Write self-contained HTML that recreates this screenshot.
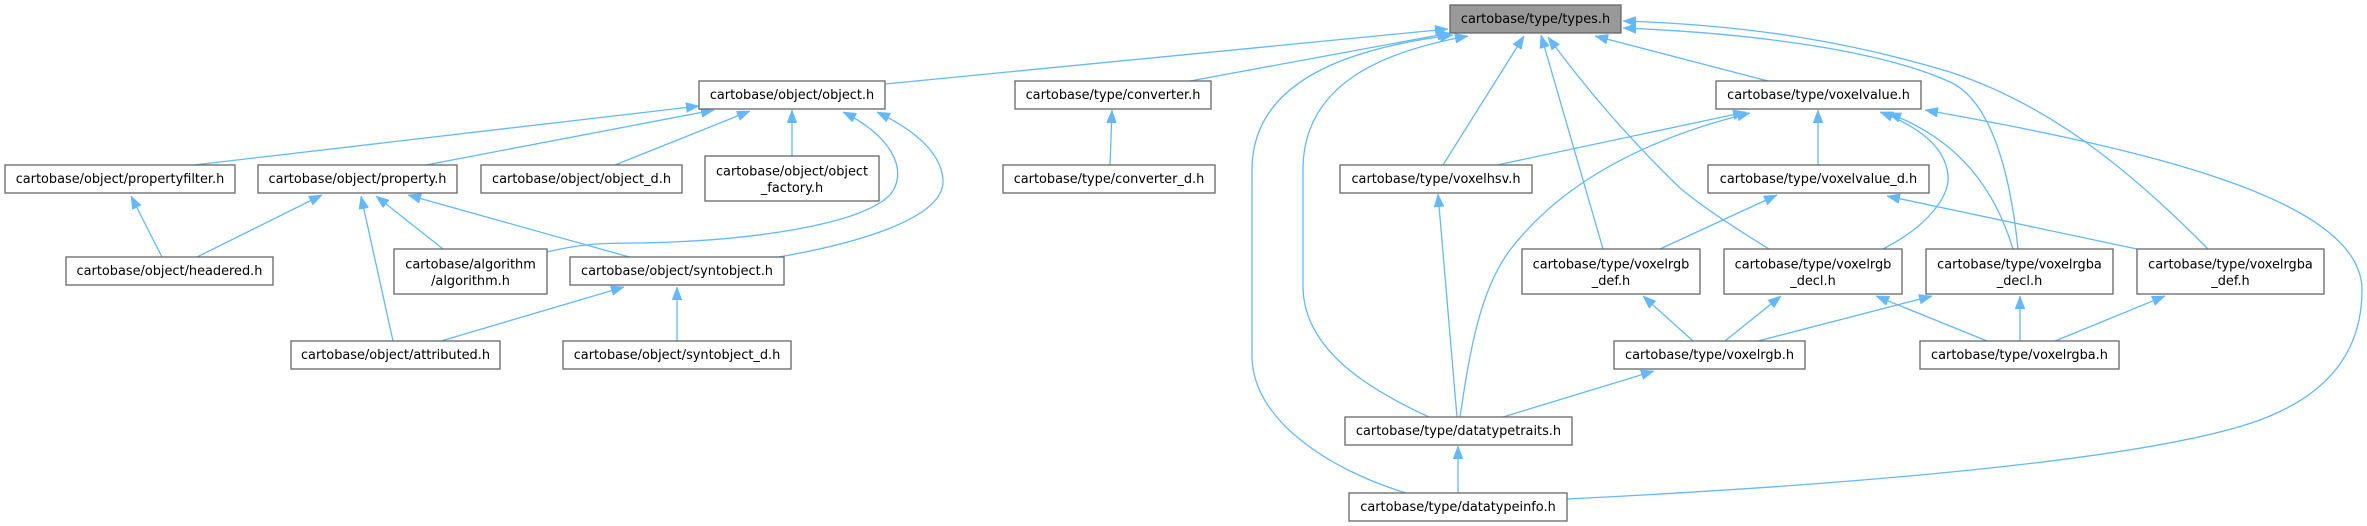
<!DOCTYPE html>
<html><head><meta charset="utf-8"><style>
html,body{margin:0;padding:0;background:#fff;}
svg{display:block;}
text{font-family:"DejaVu Sans","Liberation Sans",sans-serif;font-size:12.9px;fill:#000;}
.e{fill:none;stroke:#63b8ff;stroke-width:1.3;marker-end:url(#ah);}
.n{fill:#fff;stroke:#666;stroke-width:1.3;}
</style></head><body>
<svg width="2367" height="526" viewBox="0 0 2367 526" xmlns="http://www.w3.org/2000/svg">
<defs>
<marker id="ah" markerUnits="userSpaceOnUse" viewBox="0 0 13 10" refX="13" refY="5" markerWidth="13" markerHeight="10" orient="auto">
<path d="M0,0 L13,5 L0,10 z" fill="#63b8ff" stroke="#63b8ff" stroke-width="0.5"/>
</marker>
</defs>
<rect width="2367" height="526" fill="#fff"/>

<!-- edges -->
<path class="e" d="M885,84 L1448,29"/>
<path class="e" d="M1190,81 L1450,33"/>
<path class="e" d="M1406,493 C1330,470 1252,420 1252,356 L1252,170 C1252,80 1350,48 1453,35"/>
<path class="e" d="M1429,417 C1370,390 1303,350 1303,286 L1303,170 C1303,85 1380,52 1468,36"/>
<path class="e" d="M1443,165 L1524,36"/>
<path class="e" d="M1603,249 L1541,35"/>
<path class="e" d="M1769,249 C1730,225 1700,205 1680,188 C1620,130 1580,80 1548,37"/>
<path class="e" d="M1768,81 L1595,36"/>
<path class="e" d="M2018,249 C2010,170 1990,100 1950,82 C1880,50 1750,33 1623,28"/>
<path class="e" d="M2208,249 C2130,170 2050,105 1950,72 C1850,42 1750,25 1623,21"/>
<path class="e" d="M1110,165 L1112,110"/>
<path class="e" d="M792,156 L792,110"/>
<path class="e" d="M615,165 L750,111"/>
<path class="e" d="M426,165 L714,110"/>
<path class="e" d="M194,165 L699,106"/>
<path class="e" d="M547,252 C580,244 600,243 640,243 C750,241 860,225 890,195 C910,170 890,135 843,112"/>
<path class="e" d="M773,258 C850,245 945,220 943,180 C941,150 910,128 877,112"/>
<path class="e" d="M162,257 L131,196"/>
<path class="e" d="M197,257 L322,195"/>
<path class="e" d="M393,341 L361,196"/>
<path class="e" d="M443,249 L376,196"/>
<path class="e" d="M633,258 L408,195"/>
<path class="e" d="M441,341 L624,287"/>
<path class="e" d="M677,341 L677,287"/>
<path class="e" d="M1497,165 L1746,112"/>
<path class="e" d="M1460,417 C1470,350 1480,290 1510,250 C1560,185 1640,140 1750,113"/>
<path class="e" d="M1818,165 L1818,110"/>
<path class="e" d="M1883,249 C1930,225 1950,195 1948,175 C1945,145 1915,125 1880,112"/>
<path class="e" d="M2013,249 C1995,190 1960,140 1888,113"/>
<path class="e" d="M1567,499 C1850,485 2150,460 2260,420 C2340,390 2362,340 2362,290 C2362,200 2150,150 1925,110"/>
<path class="e" d="M1660,249 L1777,195"/>
<path class="e" d="M2137,249 L1887,196"/>
<path class="e" d="M1693,341 L1643,296"/>
<path class="e" d="M1725,341 L1781,296"/>
<path class="e" d="M1758,341 L1932,296"/>
<path class="e" d="M1987,341 L1876,296"/>
<path class="e" d="M2020,341 L2020,296"/>
<path class="e" d="M2055,341 L2165,296"/>
<path class="e" d="M1503,417 L1654,371"/>
<path class="e" d="M1457,417 L1438,194"/>
<path class="e" d="M1458,493 L1458,446"/>

<!-- nodes -->
<rect x="1450" y="5" width="171" height="28" fill="#999" stroke="#666" stroke-width="1.3"/>
<text x="1535.5" y="23" text-anchor="middle">cartobase/type/types.h</text>

<rect class="n" x="699" y="81" width="186" height="28"/>
<text x="792" y="99" text-anchor="middle">cartobase/object/object.h</text>
<rect class="n" x="1015" y="81" width="196" height="28"/>
<text x="1113" y="99" text-anchor="middle">cartobase/type/converter.h</text>
<rect class="n" x="1716" y="81" width="205" height="28"/>
<text x="1818.5" y="99" text-anchor="middle">cartobase/type/voxelvalue.h</text>

<rect class="n" x="5" y="165" width="230" height="28"/>
<text x="120" y="183" text-anchor="middle">cartobase/object/propertyfilter.h</text>
<rect class="n" x="258" y="165" width="199" height="28"/>
<text x="357.5" y="183" text-anchor="middle">cartobase/object/property.h</text>
<rect class="n" x="481" y="165" width="201" height="28"/>
<text x="581.5" y="183" text-anchor="middle">cartobase/object/object_d.h</text>
<rect class="n" x="705" y="156" width="174" height="45"/>
<text x="792" y="175.5" text-anchor="middle">cartobase/object/object</text>
<text x="792" y="192" text-anchor="middle">_factory.h</text>
<rect class="n" x="1003" y="165" width="212" height="28"/>
<text x="1109" y="183" text-anchor="middle">cartobase/type/converter_d.h</text>
<rect class="n" x="1340" y="165" width="192" height="28"/>
<text x="1436" y="183" text-anchor="middle">cartobase/type/voxelhsv.h</text>
<rect class="n" x="1708" y="165" width="221" height="28"/>
<text x="1818.5" y="183" text-anchor="middle">cartobase/type/voxelvalue_d.h</text>

<rect class="n" x="66" y="257" width="207" height="28"/>
<text x="169.5" y="275" text-anchor="middle">cartobase/object/headered.h</text>
<rect class="n" x="394" y="249" width="153" height="45"/>
<text x="470.5" y="268.5" text-anchor="middle">cartobase/algorithm</text>
<text x="470.5" y="285" text-anchor="middle">/algorithm.h</text>
<rect class="n" x="570" y="257" width="214" height="28"/>
<text x="677" y="275" text-anchor="middle">cartobase/object/syntobject.h</text>
<rect class="n" x="1522" y="249" width="178" height="45"/>
<text x="1611" y="268.5" text-anchor="middle">cartobase/type/voxelrgb</text>
<text x="1611" y="285" text-anchor="middle">_def.h</text>
<rect class="n" x="1724" y="249" width="178" height="45"/>
<text x="1813" y="268.5" text-anchor="middle">cartobase/type/voxelrgb</text>
<text x="1813" y="285" text-anchor="middle">_decl.h</text>
<rect class="n" x="1926" y="249" width="187" height="45"/>
<text x="2019.5" y="268.5" text-anchor="middle">cartobase/type/voxelrgba</text>
<text x="2019.5" y="285" text-anchor="middle">_decl.h</text>
<rect class="n" x="2137" y="249" width="187" height="45"/>
<text x="2230.5" y="268.5" text-anchor="middle">cartobase/type/voxelrgba</text>
<text x="2230.5" y="285" text-anchor="middle">_def.h</text>

<rect class="n" x="291" y="341" width="209" height="28"/>
<text x="395.5" y="359" text-anchor="middle">cartobase/object/attributed.h</text>
<rect class="n" x="563" y="341" width="228" height="28"/>
<text x="677" y="359" text-anchor="middle">cartobase/object/syntobject_d.h</text>
<rect class="n" x="1614" y="341" width="191" height="28"/>
<text x="1709.5" y="359" text-anchor="middle">cartobase/type/voxelrgb.h</text>
<rect class="n" x="1920" y="341" width="199" height="28"/>
<text x="2019.5" y="359" text-anchor="middle">cartobase/type/voxelrgba.h</text>

<rect class="n" x="1345" y="417" width="227" height="28"/>
<text x="1458.5" y="435" text-anchor="middle">cartobase/type/datatypetraits.h</text>
<rect class="n" x="1349" y="493" width="218" height="28"/>
<text x="1458" y="511" text-anchor="middle">cartobase/type/datatypeinfo.h</text>
</svg>
</body></html>
